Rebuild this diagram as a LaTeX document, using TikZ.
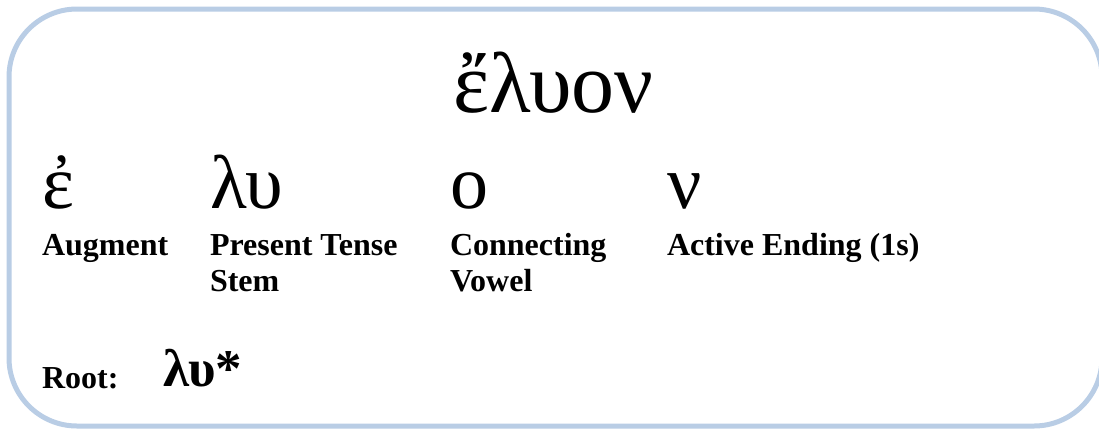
\documentclass[tikz,border=0pt]{standalone}
\usepackage{fontspec}
\setmainfont{Liberation Serif}
\definecolor{boxblue}{HTML}{B9CDE5}
\begin{document}
\begin{tikzpicture}[x=1pt,y=-1pt,
  txt/.style={anchor=base west,inner sep=0pt,outer sep=0pt},
  big/.style={txt,font=\fontsize{76}{76}\selectfont},
  title/.style={txt,font=\fontsize{86}{86}\selectfont},
  lbl/.style={txt,font=\fontsize{32}{36}\selectfont\bfseries,align=left},
  rootg/.style={txt,font=\fontsize{53}{53}\selectfont\bfseries}]
\useasboundingbox (0,0) rectangle (1099,429);
\draw[boxblue,line width=5pt,rounded corners=68pt] (9,9) rectangle (1102,426);
\node[title] (t) at (453,112) {ἔλυον};
\node[big] (g1) at (42,208) {ἐ};
\node[big] (g2) at (210,208) {λυ};
\node[big] (g3) at (450,208) {ο};
\node[big] (g4) at (667,208) {ν};
\node[lbl] (l1) at (42,255) {Augment};
\node[lbl] (l2) at (210,255) {Present Tense};
\node[lbl] (l2b) at (210,291) {Stem};
\node[lbl] (l3) at (450,255) {Connecting};
\node[lbl] (l3b) at (450,291) {Vowel};
\node[lbl] (l4) at (667,255) {Active Ending (1s)};
\node[lbl] (r) at (42,388) {Root:};
\node[rootg] (rg) at (163,386) {λυ*};
\end{tikzpicture}
\end{document}
